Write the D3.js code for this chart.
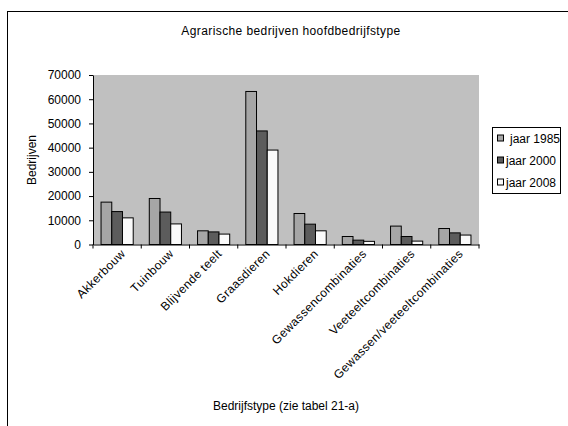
<!DOCTYPE html>
<html>
<head>
<meta charset="utf-8">
<script src="https://cdn.jsdelivr.net/npm/d3@7"></script>
<style>
  body { margin: 0; background: #fff; }
  text { font-family: "Liberation Sans", Arial, sans-serif; fill: #000; }
</style>
</head>
<body>
<svg id="chart" width="568" height="426"></svg>
<script>
const categories = ["Akkerbouw", "Tuinbouw", "Blijvende teelt", "Graasdieren", "Hokdieren",
    "Gewassencombinaties", "Veeteeltcombinaties", "Gewassen/veeteeltcombinaties"];
const series = ["jaar 1985", "jaar 2000", "jaar 2008"];
const jaar1985 = [17500, 19000, 5650, 63200, 12800, 3300, 7600, 6600];
const jaar2000 = [13600, 13400, 5200, 46900, 8400, 1800, 3300, 4800];
const jaar2008 = [11000, 8500, 4300, 39000, 5650, 1300, 1400, 3900];
const yTicks = [0, 10000, 20000, 30000, 40000, 50000, 60000, 70000];
const colors = ["#a6a6a6", "#5c5c5c", "#fafafa"];

const values = [jaar1985, jaar2000, jaar2008];

const svg = d3.select("#chart");

// outer chart border
svg.append("rect")
    .attr("x", 7.5).attr("y", 11.5)
    .attr("width", 600).attr("height", 500)
    .attr("fill", "#fff").attr("stroke", "#000");

const margin = {top: 75, left: 93, right: 479, bottom: 244.5};

const x = d3.scaleBand()
    .domain(categories)
    .range([margin.left, margin.right]);

const y = d3.scaleLinear()
    .domain([0, 70000])
    .range([margin.bottom, margin.top]);

// plot area
svg.append("rect")
    .attr("x", margin.left).attr("y", margin.top)
    .attr("width", margin.right - margin.left)
    .attr("height", margin.bottom - margin.top)
    .attr("fill", "#c0c0c0");

const bw = x.bandwidth() / 4.5;
const groups = svg.append("g");
series.forEach((s, i) => {
    groups.selectAll(".bar" + i)
        .data(categories.map((c, j) => ({c: c, v: values[i][j]})))
        .enter().append("rect")
        .attr("x", d => x(d.c) + 0.75 * bw + i * bw)
        .attr("y", d => y(d.v))
        .attr("width", bw)
        .attr("height", d => y(0) - y(d.v))
        .attr("fill", colors[i])
        .attr("stroke", "#000")
        .attr("stroke-width", 1);
});

// y axis
const yAxis = svg.append("g")
    .attr("transform", "translate(" + margin.left + ",0)")
    .call(d3.axisLeft(y).tickValues(yTicks).tickFormat(d3.format("d")).tickSize(4).tickSizeOuter(0));
yAxis.select(".domain").attr("stroke", "#000");
yAxis.selectAll("text").style("font-size", "12px").attr("dx", "-5");

// x axis
const xAxis = svg.append("g")
    .attr("transform", "translate(0," + margin.bottom + ")")
    .call(d3.axisBottom(x).tickSize(0).tickSizeOuter(0).tickFormat(""));
xAxis.selectAll(".tick").remove();
xAxis.selectAll(".sep")
    .data(d3.range(categories.length + 1))
    .enter().append("line")
    .attr("x1", i => margin.left + i * x.bandwidth())
    .attr("x2", i => margin.left + i * x.bandwidth())
    .attr("y1", 0).attr("y2", 4)
    .attr("stroke", "#000");

svg.selectAll(".catlabel")
    .data(categories)
    .enter().append("text")
    .attr("transform", d => "translate(" + (x(d) + x.bandwidth() / 2 + 3) + "," + (margin.bottom + 4) + ") rotate(-45)")
    .attr("text-anchor", "end")
    .attr("dy", "0.7em")
    .style("font-size", "12px")
    .style("letter-spacing", "0.4px")
    .text(d => d);

// title
svg.append("text")
    .attr("x", 291).attr("y", 35)
    .attr("text-anchor", "middle")
    .style("font-size", "12px")
    .style("letter-spacing", "0.4px")
    .text("Agrarische bedrijven hoofdbedrijfstype");

svg.append("text")
    .attr("transform", "translate(36,160) rotate(-90)")
    .attr("text-anchor", "middle")
    .style("font-size", "12px")
    .text("Bedrijven");

svg.append("text")
    .attr("x", 286).attr("y", 410)
    .attr("text-anchor", "middle")
    .style("font-size", "12px")
    .text("Bedrijfstype (zie tabel 21-a)");

// legend
const legend = svg.append("g").attr("transform", "translate(492,127)");
legend.append("rect")
    .attr("x", 0.5).attr("y", 0.5)
    .attr("width", 68).attr("height", 66)
    .attr("fill", "#fff").attr("stroke", "#000");
series.forEach((s, i) => {
    legend.append("rect")
        .attr("x", 5.5).attr("y", 8 + i * 22)
        .attr("width", 6).attr("height", 6)
        .attr("fill", colors[i]).attr("stroke", "#000");
    legend.append("text")
        .attr("x", i === 0 ? 18 : 14).attr("y", 15.5 + i * 22)
        .style("font-size", "12px")
        .text(s);
});
</script>
</body>
</html>
